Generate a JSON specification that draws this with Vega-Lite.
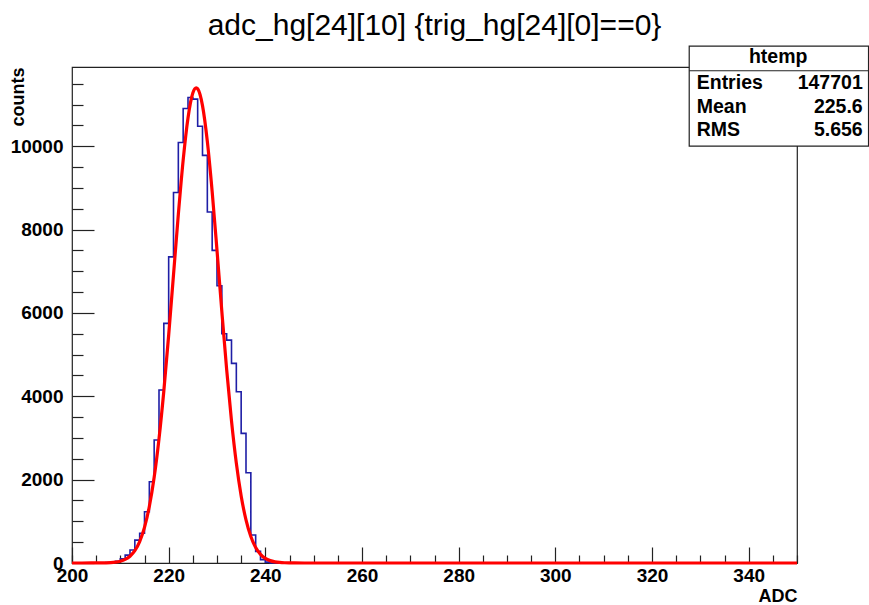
{
  "$schema": "https://vega.github.io/schema/vega-lite/v6.json",
  "width": 725,
  "height": 496,
  "autosize": "none",
  "padding": {"left": 72, "top": 67, "right": 72, "bottom": 42},
  "background": "white",
  "title": {
    "text": "adc_hg[24][10] {trig_hg[24][0]==0}",
    "font": "Liberation Sans",
    "fontSize": 30,
    "fontWeight": "normal",
    "color": "black",
    "anchor": "middle",
    "frame": "group",
    "baseline": "alphabetic",
    "offset": -20
  },
  "config": {
    "view": {"stroke": "#222222", "strokeWidth": 1.2},
    "font": "Liberation Sans",
    "axis": {"grid": false, "domain": false, "labelColor": "black", "titleColor": "black", "tickColor": "#222222", "tickWidth": 1.2}
  },
  "resolve": {"axis": {"x": "independent", "y": "independent"}},
  "datasets": {
    "hist": [
      {"adc": 200, "counts": 0}, {"adc": 206, "counts": 0}, {"adc": 207, "counts": 8},
      {"adc": 208, "counts": 15}, {"adc": 209, "counts": 40}, {"adc": 210, "counts": 100},
      {"adc": 211, "counts": 190}, {"adc": 212, "counts": 312}, {"adc": 213, "counts": 550},
      {"adc": 214, "counts": 712}, {"adc": 215, "counts": 1231}, {"adc": 216, "counts": 1950},
      {"adc": 217, "counts": 2950}, {"adc": 218, "counts": 4149}, {"adc": 219, "counts": 5748},
      {"adc": 220, "counts": 7345}, {"adc": 221, "counts": 8890}, {"adc": 222, "counts": 10089},
      {"adc": 223, "counts": 10904}, {"adc": 224, "counts": 11168}, {"adc": 225, "counts": 11130},
      {"adc": 226, "counts": 10480}, {"adc": 227, "counts": 9780}, {"adc": 228, "counts": 8420},
      {"adc": 229, "counts": 7500}, {"adc": 230, "counts": 6650}, {"adc": 231, "counts": 5500},
      {"adc": 232, "counts": 5348}, {"adc": 233, "counts": 4789}, {"adc": 234, "counts": 4108},
      {"adc": 235, "counts": 3110}, {"adc": 236, "counts": 2165}, {"adc": 237, "counts": 671},
      {"adc": 238, "counts": 280}, {"adc": 239, "counts": 80}, {"adc": 240, "counts": 20},
      {"adc": 241, "counts": 0}, {"adc": 350, "counts": 0}
    ],
    "fit": [
      {"adc": 200, "counts": 0}, {"adc": 204, "counts": 1}, {"adc": 206, "counts": 2},
      {"adc": 207, "counts": 4}, {"adc": 208, "counts": 9}, {"adc": 209, "counts": 21},
      {"adc": 210, "counts": 43}, {"adc": 211, "counts": 86}, {"adc": 212, "counts": 163},
      {"adc": 213, "counts": 296}, {"adc": 214, "counts": 514}, {"adc": 215, "counts": 854},
      {"adc": 216, "counts": 1356}, {"adc": 217, "counts": 2055}, {"adc": 218, "counts": 2979},
      {"adc": 219, "counts": 4127}, {"adc": 220, "counts": 5464}, {"adc": 221, "counts": 6914},
      {"adc": 222, "counts": 8362}, {"adc": 223, "counts": 9666}, {"adc": 224, "counts": 10678},
      {"adc": 225, "counts": 11275}, {"adc": 225.7, "counts": 11400}, {"adc": 226, "counts": 11377},
      {"adc": 227, "counts": 10973}, {"adc": 228, "counts": 10114}, {"adc": 229, "counts": 8909},
      {"adc": 230, "counts": 7501}, {"adc": 231, "counts": 6036}, {"adc": 232, "counts": 4642},
      {"adc": 233, "counts": 3412}, {"adc": 234, "counts": 2397}, {"adc": 235, "counts": 1610},
      {"adc": 236, "counts": 1033}, {"adc": 237, "counts": 634}, {"adc": 238, "counts": 371},
      {"adc": 239, "counts": 208}, {"adc": 240, "counts": 111}, {"adc": 241, "counts": 57},
      {"adc": 242, "counts": 28}, {"adc": 243, "counts": 13}, {"adc": 244, "counts": 6},
      {"adc": 246, "counts": 1}, {"adc": 250, "counts": 0}, {"adc": 350, "counts": 0}
    ]
  },
  "layer": [
    {
      "data": {"name": "hist"},
      "mark": {"type": "line", "interpolate": "step-after", "color": "#1e1ea6", "strokeWidth": 1.6},
      "encoding": {
        "x": {
          "field": "adc", "type": "quantitative",
          "scale": {"domain": [200, 350], "nice": false, "zero": false},
          "axis": {
            "orient": "bottom", "values": [200, 220, 240, 260, 280, 300, 320, 340],
            "ticks": false, "labelFontSize": 19, "labelFontWeight": "bold", "labelPadding": 3,
            "labelFlush": false, "labelOverlap": false, "format": "d",
            "title": "ADC", "titleAnchor": "end", "titleFontSize": 18, "titleFontWeight": "bold", "titlePadding": 2
          }
        },
        "y": {
          "field": "counts", "type": "quantitative",
          "scale": {"domain": [0, 11900], "nice": false, "zero": true},
          "axis": {
            "orient": "left", "values": [0, 2000, 4000, 6000, 8000, 10000],
            "ticks": false, "labelFontSize": 19, "labelFontWeight": "bold", "labelPadding": 9,
            "labelFlush": false, "labelOverlap": false, "format": "d",
            "title": "counts", "titleAnchor": "end", "titleFontSize": 18, "titleFontWeight": "bold", "titlePadding": -17
          }
        }
      }
    },
    {
      "data": {"name": "fit"},
      "mark": {"type": "line", "interpolate": "monotone", "color": "#ff0000", "strokeWidth": 3.2},
      "encoding": {
        "x": {
          "field": "adc", "type": "quantitative",
          "scale": {"domain": [200, 350], "nice": false, "zero": false},
          "axis": {"orient": "bottom", "values": [200, 220, 240, 260, 280, 300, 320, 340], "labels": false, "tickSize": -16, "title": null}
        },
        "y": {
          "field": "counts", "type": "quantitative",
          "scale": {"domain": [0, 11900], "nice": false, "zero": true},
          "axis": {"orient": "left", "values": [0, 2000, 4000, 6000, 8000, 10000], "labels": false, "tickSize": -22, "title": null}
        }
      }
    },
    {
      "data": {"values": [{"box": "htemp"}]},
      "mark": {"type": "rect", "fill": "white", "stroke": "#222222", "strokeWidth": 1.2},
      "encoding": {
        "x": {
          "datum": 327.7, "type": "quantitative",
          "scale": {"domain": [200, 350], "nice": false, "zero": false},
          "axis": {"orient": "bottom", "values": [200, 205, 210, 215, 225, 230, 235, 245, 250, 255, 265, 270, 275, 285, 290, 295, 305, 310, 315, 325, 330, 335, 345, 350], "labels": false, "tickSize": -8, "title": null}
        },
        "x2": {"datum": 364.8},
        "y": {
          "datum": 12403, "type": "quantitative",
          "scale": {"domain": [0, 11900], "nice": false, "zero": true},
          "axis": {"orient": "left", "values": [500, 1000, 1500, 2500, 3000, 3500, 4500, 5000, 5500, 6500, 7000, 7500, 8500, 9000, 9500, 10500, 11000, 11500], "labels": false, "tickSize": -11, "title": null}
        },
        "y2": {"datum": 10004}
      }
    },
    {
      "data": {"values": [{"box": "htemp"}]},
      "mark": {"type": "rule", "stroke": "#222222", "strokeWidth": 1.2},
      "encoding": {
        "x": {"datum": 327.7, "type": "quantitative", "scale": {"domain": [200, 350], "nice": false, "zero": false}, "axis": null},
        "x2": {"datum": 364.8},
        "y": {"datum": 11810, "type": "quantitative", "scale": {"domain": [0, 11900], "nice": false, "zero": true}, "axis": null}
      }
    },
    {
      "data": {"values": [{"t": "htemp"}]},
      "mark": {"type": "text", "align": "center", "baseline": "middle", "fontSize": 19.5, "fontWeight": "bold", "color": "black"},
      "encoding": {
        "x": {"datum": 346.1, "type": "quantitative", "scale": {"domain": [200, 350], "nice": false, "zero": false}, "axis": null},
        "y": {"datum": 12132, "type": "quantitative", "scale": {"domain": [0, 11900], "nice": false, "zero": true}, "axis": null},
        "text": {"field": "t"}
      }
    },
    {
      "data": {"values": [{"name": "Entries", "value": "147701"}]},
      "layer": [
        {
          "mark": {"type": "text", "align": "left", "baseline": "middle", "fontSize": 19.5, "fontWeight": "bold", "color": "black"},
          "encoding": {
            "x": {"datum": 329.25, "type": "quantitative", "scale": {"domain": [200, 350], "nice": false, "zero": false}, "axis": null},
            "y": {"datum": 11508, "type": "quantitative", "scale": {"domain": [0, 11900], "nice": false, "zero": true}, "axis": null},
            "text": {"field": "name"}
          }
        },
        {
          "mark": {"type": "text", "align": "right", "baseline": "middle", "fontSize": 19.5, "fontWeight": "bold", "color": "black"},
          "encoding": {
            "x": {"datum": 363.6, "type": "quantitative", "scale": {"domain": [200, 350], "nice": false, "zero": false}, "axis": null},
            "y": {"datum": 11508, "type": "quantitative", "scale": {"domain": [0, 11900], "nice": false, "zero": true}, "axis": null},
            "text": {"field": "value"}
          }
        }
      ]
    },
    {
      "data": {"values": [{"name": "Mean", "value": "225.6"}]},
      "layer": [
        {
          "mark": {"type": "text", "align": "left", "baseline": "middle", "fontSize": 19.5, "fontWeight": "bold", "color": "black"},
          "encoding": {
            "x": {"datum": 329.25, "type": "quantitative", "scale": {"domain": [200, 350], "nice": false, "zero": false}, "axis": null},
            "y": {"datum": 10947, "type": "quantitative", "scale": {"domain": [0, 11900], "nice": false, "zero": true}, "axis": null},
            "text": {"field": "name"}
          }
        },
        {
          "mark": {"type": "text", "align": "right", "baseline": "middle", "fontSize": 19.5, "fontWeight": "bold", "color": "black"},
          "encoding": {
            "x": {"datum": 363.6, "type": "quantitative", "scale": {"domain": [200, 350], "nice": false, "zero": false}, "axis": null},
            "y": {"datum": 10947, "type": "quantitative", "scale": {"domain": [0, 11900], "nice": false, "zero": true}, "axis": null},
            "text": {"field": "value"}
          }
        }
      ]
    },
    {
      "data": {"values": [{"name": "RMS", "value": "5.656"}]},
      "layer": [
        {
          "mark": {"type": "text", "align": "left", "baseline": "middle", "fontSize": 19.5, "fontWeight": "bold", "color": "black"},
          "encoding": {
            "x": {"datum": 329.25, "type": "quantitative", "scale": {"domain": [200, 350], "nice": false, "zero": false}, "axis": null},
            "y": {"datum": 10388, "type": "quantitative", "scale": {"domain": [0, 11900], "nice": false, "zero": true}, "axis": null},
            "text": {"field": "name"}
          }
        },
        {
          "mark": {"type": "text", "align": "right", "baseline": "middle", "fontSize": 19.5, "fontWeight": "bold", "color": "black"},
          "encoding": {
            "x": {"datum": 363.6, "type": "quantitative", "scale": {"domain": [200, 350], "nice": false, "zero": false}, "axis": null},
            "y": {"datum": 10388, "type": "quantitative", "scale": {"domain": [0, 11900], "nice": false, "zero": true}, "axis": null},
            "text": {"field": "value"}
          }
        }
      ]
    }
  ]
}
